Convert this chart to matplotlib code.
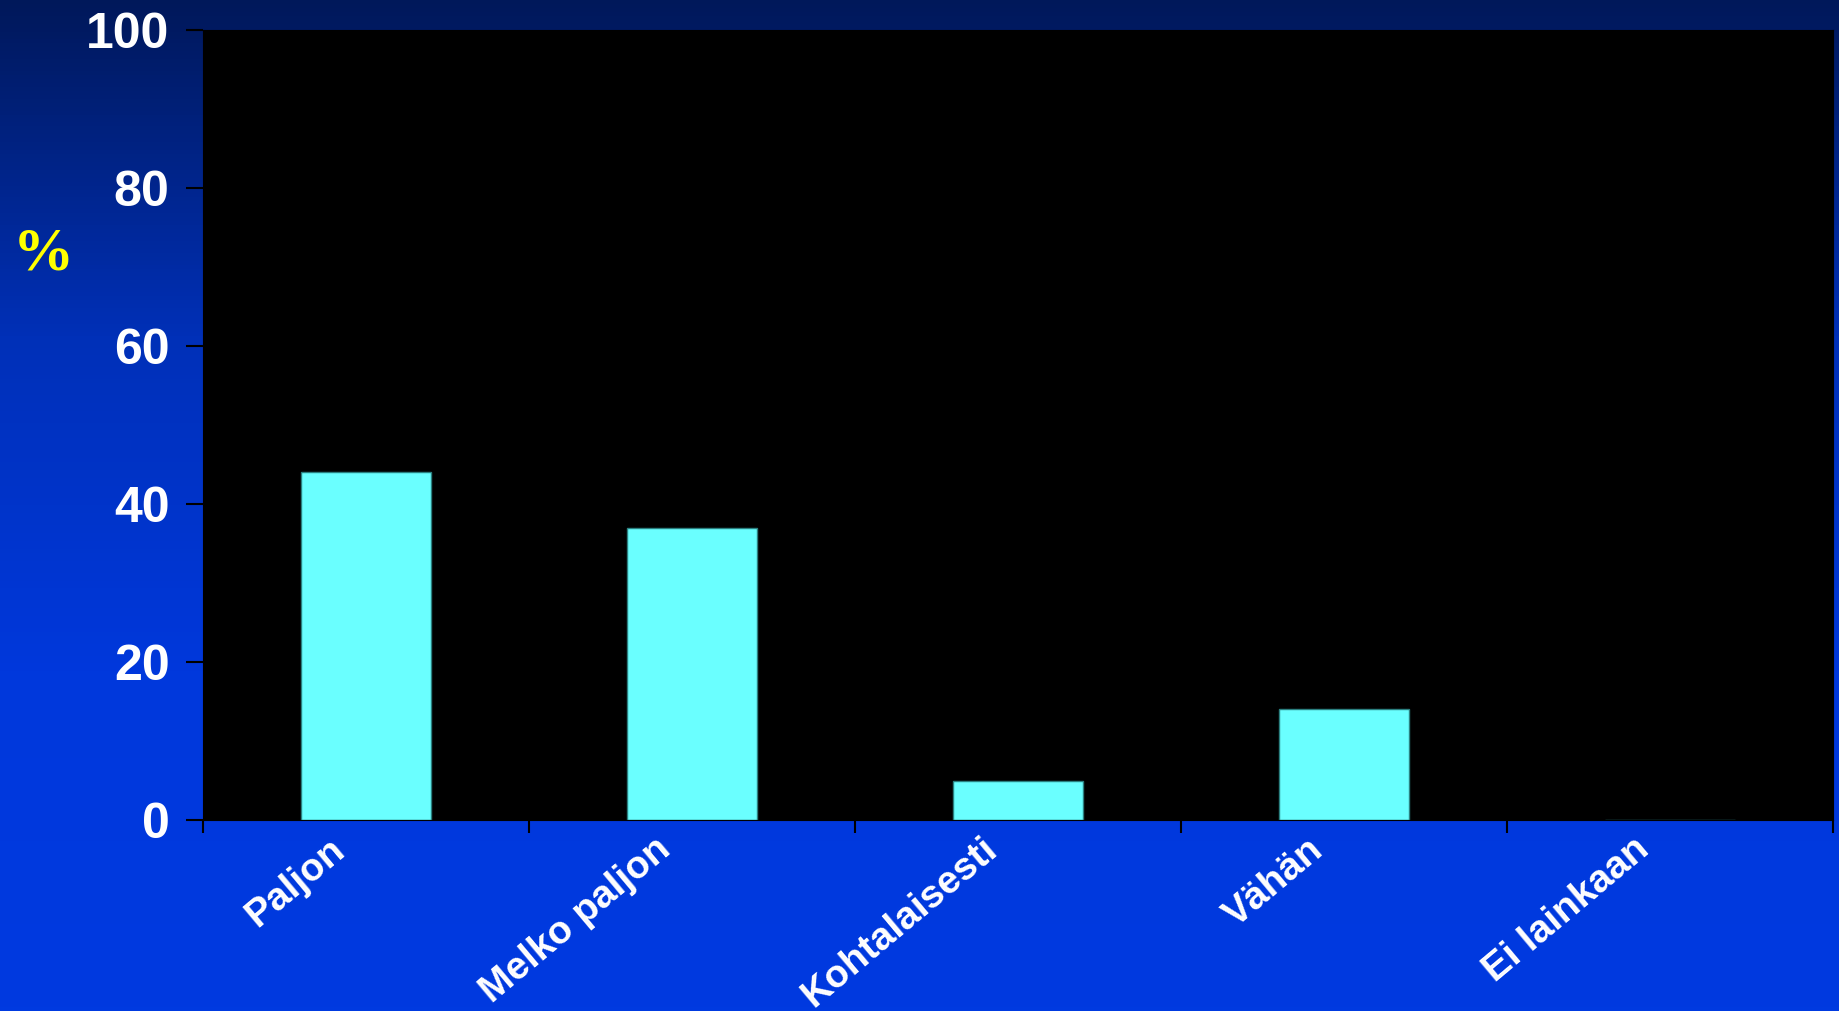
import numpy as np
import matplotlib.pyplot as plt
from matplotlib.colors import LinearSegmentedColormap
from matplotlib.transforms import ScaledTranslation

# data
categories = ['Paljon', 'Melko paljon', 'Kohtalaisesti', 'Vähän', 'Ei lainkaan']
percent = [44, 37, 5, 14, 0]
yticks = [0, 20, 40, 60, 80, 100]

fig = plt.figure(figsize=(18.4, 10.11), dpi=100)

# vertical blue gradient behind everything
bg = fig.add_axes([0, 0, 1, 1], zorder=-10)
cmap = LinearSegmentedColormap.from_list('bg', ['#00185a', '#0030b8', '#0038dc', '#003ae0'])
grad = np.linspace(0, 1, 256).reshape(-1, 1)
bg.imshow(grad, aspect='auto', cmap=cmap, extent=[0, 1, 0, 1], origin='upper')
bg.axis('off')

ax = fig.add_axes([0.1103, 0.1889, 0.8859, 0.7814])
ax.set_facecolor('black')
x = np.arange(len(categories))
ax.bar(x, percent, width=0.4, color='#6affff', edgecolor='#2a8080', linewidth=1)

ax.set_xlim(-0.5, len(categories) - 0.5)
ax.set_ylim(0, 100)
for s in ax.spines.values():
    s.set_color('black')

ax.set_yticks(yticks)
ax.set_yticklabels([str(v) for v in yticks], color='white', fontsize=36,
                   family='Liberation Sans', weight='bold')
ax.tick_params(axis='y', length=12, width=1.5, color='black', pad=12)

# ticks at category boundaries, labels at centres
ax.set_xticks(np.arange(len(categories) + 1) - 0.5)
ax.set_xticklabels([])
ax.tick_params(axis='x', which='major', length=9, width=1.5, color='black', direction='out')
ax.set_xticks(x, minor=True)
ax.set_xticklabels(categories, minor=True, rotation=40, ha='right', va='top',
                   color='white', fontsize=28, weight='bold', family='Liberation Sans')
ax.tick_params(axis='x', which='minor', length=0, pad=8)
shift = ScaledTranslation(-14 / 100, 0, fig.dpi_scale_trans)
for lab in ax.get_xticklabels(minor=True):
    lab.set_transform(lab.get_transform() + shift)

fig.text(0.0234, 0.748, '%', color='#ffff00', fontsize=44, family='Liberation Serif',
         weight='bold', ha='center', va='center')

fig.savefig('out.png', dpi=100)
